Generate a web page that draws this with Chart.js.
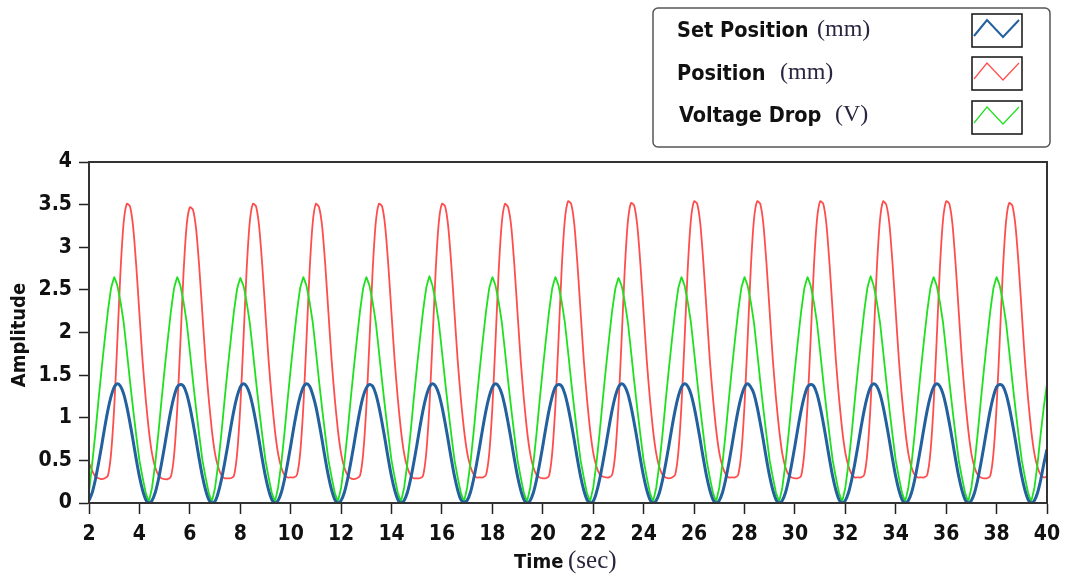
<!DOCTYPE html>
<html>
<head>
<meta charset="utf-8">
<script src="https://cdn.jsdelivr.net/npm/chart.js@4.4.1/dist/chart.umd.min.js"></script>
<style>
  html, body { margin: 0; padding: 0; background: #fff; }
  #wrap { width: 1066px; height: 577px; }
</style>
</head>
<body>
<div id="wrap"><canvas id="ampChart" width="1066" height="577"></canvas></div>
<script>
// waveform timing: first sample at t0, one sample every dt seconds
const t0 = 2;
const dt = 0.125;

const seriesNames = ["Set Position", "Position", "Voltage Drop"];
const seriesUnits = ["(mm)", "(mm)", "(V)"];
const seriesColors = ["#22609e", "#ff4d4d", "#1ee01e"];

// Set Position (mm)
const setPosition = [
  0.03,0.12,0.27,0.46,0.67,0.89,1.09,1.25,1.36,1.40,1.37,1.28,1.13,0.94,0.73,0.51,0.31,0.15,0.04,0.00,
  0.03,0.12,0.27,0.46,0.67,0.89,1.09,1.25,1.36,1.39,1.37,1.28,1.13,0.94,0.73,0.51,0.31,0.15,0.04,0.00,
  0.02,0.12,0.27,0.46,0.67,0.89,1.09,1.25,1.36,1.40,1.37,1.28,1.13,0.94,0.73,0.51,0.31,0.15,0.04,0.00,
  0.03,0.12,0.27,0.46,0.67,0.89,1.09,1.25,1.36,1.40,1.37,1.27,1.13,0.94,0.73,0.51,0.31,0.15,0.04,0.00,
  0.03,0.12,0.27,0.46,0.67,0.89,1.09,1.25,1.35,1.39,1.37,1.28,1.13,0.94,0.73,0.51,0.31,0.15,0.04,0.00,
  0.03,0.12,0.27,0.46,0.67,0.89,1.09,1.25,1.36,1.40,1.37,1.28,1.13,0.94,0.73,0.51,0.31,0.15,0.04,0.01,
  0.03,0.12,0.27,0.46,0.67,0.89,1.09,1.25,1.36,1.40,1.37,1.28,1.13,0.94,0.73,0.51,0.31,0.15,0.04,0.00,
  0.03,0.12,0.27,0.46,0.67,0.89,1.09,1.25,1.36,1.39,1.37,1.28,1.13,0.94,0.73,0.51,0.31,0.15,0.04,0.00,
  0.02,0.12,0.27,0.46,0.67,0.89,1.09,1.25,1.36,1.40,1.37,1.28,1.13,0.94,0.73,0.51,0.31,0.15,0.04,0.00,
  0.03,0.12,0.27,0.46,0.67,0.89,1.09,1.25,1.36,1.40,1.37,1.28,1.13,0.94,0.73,0.51,0.31,0.15,0.04,0.00,
  0.03,0.12,0.27,0.46,0.67,0.89,1.09,1.25,1.36,1.40,1.36,1.28,1.13,0.94,0.73,0.51,0.31,0.15,0.04,0.00,
  0.03,0.12,0.27,0.46,0.67,0.89,1.09,1.25,1.36,1.39,1.37,1.28,1.13,0.94,0.73,0.51,0.31,0.15,0.04,0.00,
  0.03,0.12,0.27,0.46,0.67,0.89,1.09,1.25,1.36,1.40,1.37,1.28,1.13,0.94,0.73,0.51,0.31,0.15,0.04,0.00,
  0.03,0.12,0.27,0.46,0.67,0.89,1.09,1.25,1.36,1.40,1.37,1.28,1.13,0.94,0.73,0.51,0.31,0.15,0.04,0.00,
  0.03,0.12,0.27,0.46,0.67,0.89,1.09,1.25,1.36,1.39,1.37,1.28,1.13,0.94,0.73,0.51,0.31,0.15,0.04,0.00,
  0.03,0.12,0.27,0.46,0.63
];

// Position (mm)
const position = [
  0.47,0.38,0.31,0.29,0.28,0.29,0.32,0.58,1.12,1.90,2.72,3.29,3.51,3.48,3.24,2.78,2.22,1.67,1.22,0.85,
  0.58,0.42,0.33,0.29,0.28,0.28,0.31,0.56,1.10,1.88,2.70,3.26,3.47,3.44,3.21,2.76,2.21,1.66,1.22,0.85,
  0.58,0.42,0.33,0.29,0.29,0.29,0.32,0.58,1.12,1.90,2.72,3.29,3.51,3.48,3.24,2.78,2.22,1.67,1.22,0.85,
  0.58,0.42,0.33,0.30,0.30,0.30,0.33,0.58,1.12,1.90,2.72,3.29,3.51,3.47,3.24,2.78,2.22,1.67,1.22,0.85,
  0.58,0.42,0.33,0.29,0.28,0.29,0.32,0.58,1.12,1.90,2.72,3.29,3.51,3.48,3.24,2.78,2.22,1.67,1.22,0.85,
  0.58,0.42,0.33,0.29,0.29,0.29,0.32,0.58,1.12,1.90,2.72,3.29,3.51,3.48,3.24,2.78,2.22,1.67,1.22,0.86,
  0.59,0.43,0.34,0.30,0.30,0.30,0.33,0.58,1.12,1.90,2.72,3.29,3.51,3.47,3.24,2.78,2.22,1.67,1.22,0.85,
  0.58,0.42,0.33,0.30,0.29,0.29,0.32,0.59,1.14,1.92,2.75,3.32,3.54,3.51,3.27,2.80,2.24,1.68,1.23,0.86,
  0.59,0.43,0.34,0.31,0.30,0.30,0.33,0.58,1.13,1.91,2.73,3.30,3.52,3.49,3.25,2.79,2.23,1.67,1.22,0.85,
  0.58,0.42,0.33,0.30,0.29,0.30,0.33,0.59,1.14,1.92,2.75,3.32,3.54,3.51,3.27,2.80,2.24,1.68,1.23,0.86,
  0.59,0.43,0.34,0.30,0.30,0.30,0.33,0.59,1.14,1.92,2.75,3.32,3.54,3.51,3.27,2.80,2.24,1.68,1.23,0.86,
  0.58,0.42,0.33,0.30,0.29,0.29,0.32,0.59,1.14,1.92,2.75,3.32,3.54,3.51,3.27,2.80,2.24,1.68,1.23,0.86,
  0.59,0.43,0.34,0.30,0.30,0.30,0.33,0.59,1.14,1.92,2.75,3.32,3.54,3.50,3.27,2.80,2.24,1.68,1.23,0.86,
  0.58,0.42,0.33,0.30,0.30,0.30,0.33,0.59,1.14,1.92,2.75,3.32,3.54,3.51,3.27,2.80,2.24,1.68,1.23,0.86,
  0.58,0.42,0.33,0.30,0.29,0.29,0.32,0.58,1.13,1.91,2.73,3.30,3.52,3.49,3.25,2.79,2.23,1.67,1.22,0.85,
  0.58,0.42,0.33,0.30,0.31
];

// Voltage Drop (V)
const voltageDrop = [
  0.12,0.46,0.81,1.20,1.57,1.92,2.25,2.52,2.65,2.55,2.36,2.12,1.78,1.43,1.10,0.79,0.50,0.30,0.12,0.02,
  0.18,0.46,0.81,1.20,1.57,1.92,2.25,2.52,2.65,2.55,2.36,2.12,1.78,1.43,1.10,0.79,0.50,0.30,0.12,0.02,
  0.18,0.46,0.81,1.20,1.57,1.92,2.25,2.51,2.64,2.55,2.36,2.12,1.78,1.43,1.10,0.79,0.50,0.30,0.12,0.02,
  0.18,0.46,0.81,1.20,1.57,1.92,2.25,2.52,2.65,2.55,2.36,2.12,1.78,1.43,1.10,0.79,0.50,0.30,0.12,0.02,
  0.18,0.46,0.81,1.20,1.57,1.92,2.25,2.52,2.65,2.55,2.36,2.12,1.78,1.43,1.10,0.79,0.50,0.30,0.12,0.02,
  0.18,0.46,0.81,1.20,1.57,1.92,2.25,2.52,2.66,2.55,2.36,2.12,1.78,1.43,1.10,0.79,0.50,0.30,0.12,0.02,
  0.18,0.46,0.81,1.20,1.57,1.92,2.25,2.52,2.65,2.55,2.36,2.12,1.78,1.43,1.10,0.79,0.50,0.30,0.12,0.02,
  0.18,0.46,0.81,1.20,1.57,1.92,2.25,2.52,2.65,2.55,2.36,2.12,1.78,1.43,1.10,0.79,0.50,0.30,0.12,0.02,
  0.18,0.46,0.81,1.20,1.57,1.92,2.25,2.51,2.64,2.55,2.36,2.12,1.78,1.43,1.10,0.79,0.50,0.30,0.12,0.02,
  0.18,0.46,0.81,1.20,1.57,1.92,2.25,2.52,2.65,2.55,2.36,2.12,1.78,1.43,1.10,0.79,0.50,0.30,0.12,0.02,
  0.18,0.46,0.81,1.20,1.57,1.92,2.25,2.52,2.65,2.55,2.36,2.12,1.78,1.43,1.10,0.79,0.50,0.30,0.12,0.02,
  0.18,0.46,0.81,1.20,1.57,1.92,2.25,2.52,2.65,2.55,2.36,2.12,1.78,1.43,1.10,0.79,0.50,0.30,0.12,0.02,
  0.18,0.46,0.81,1.20,1.57,1.92,2.25,2.52,2.66,2.55,2.36,2.12,1.78,1.43,1.10,0.79,0.50,0.30,0.12,0.02,
  0.18,0.46,0.81,1.20,1.57,1.92,2.25,2.52,2.65,2.55,2.36,2.12,1.78,1.43,1.10,0.79,0.50,0.30,0.12,0.02,
  0.18,0.46,0.81,1.20,1.57,1.92,2.25,2.52,2.65,2.55,2.36,2.12,1.78,1.43,1.10,0.79,0.50,0.30,0.12,0.02,
  0.18,0.46,0.81,1.13,1.40
];

const seriesValues = [setPosition, position, voltageDrop];

function toPoints(values) {
  return values.map((v, i) => ({ x: t0 + i * dt, y: v }));
}

const boldFace = "'DejaVu Sans Condensed', 'DejaVu Sans'";
const tickFont = { family: boldFace, size: 21, weight: "bold" };

// frame, axis titles and the boxed legend in the top right corner
const decorPlugin = {
  id: "decor",
  afterDraw(chart) {
    const ctx = chart.ctx;
    const a = chart.chartArea;
    ctx.save();

    ctx.strokeStyle = "#333";
    ctx.lineWidth = 2;
    ctx.strokeRect(a.left, a.top, a.right - a.left, a.bottom - a.top);

    // y title
    ctx.fillStyle = "#111";
    ctx.font = "bold 20px " + boldFace;
    ctx.textAlign = "center";
    ctx.textBaseline = "middle";
    ctx.translate(20, 335);
    ctx.rotate(-Math.PI / 2);
    ctx.fillText("Amplitude", 0, 0);
    ctx.setTransform(1, 0, 0, 1, 0, 0);

    // x title, bold word plus serif unit
    ctx.textAlign = "left";
    ctx.textBaseline = "alphabetic";
    ctx.font = "bold 20px " + boldFace;
    ctx.fillStyle = "#111";
    ctx.fillText("Time", 514, 568);
    ctx.font = "25px 'Liberation Serif'";
    ctx.fillStyle = "#2b2540";
    ctx.fillText("(sec)", 568, 568);

    // legend box
    const bx = 653, by = 8, bw = 397, bh = 139, r = 5;
    ctx.beginPath();
    ctx.moveTo(bx + r, by);
    ctx.arcTo(bx + bw, by, bx + bw, by + bh, r);
    ctx.arcTo(bx + bw, by + bh, bx, by + bh, r);
    ctx.arcTo(bx, by + bh, bx, by, r);
    ctx.arcTo(bx, by, bx + bw, by, r);
    ctx.closePath();
    ctx.fillStyle = "#fff";
    ctx.fill();
    ctx.strokeStyle = "#555";
    ctx.lineWidth = 1.5;
    ctx.stroke();

    const rows = [
      { nameX: 677, unitX: 817, base: 37, boxY: 14 },
      { nameX: 677, unitX: 780, base: 80, boxY: 57 },
      { nameX: 679, unitX: 835, base: 122, boxY: 101 }
    ];
    const widths = [2, 1.2, 1.2];
    rows.forEach((row, i) => {
      ctx.font = "bold 21.5px " + boldFace;
      ctx.fillStyle = "#111";
      ctx.fillText(seriesNames[i], row.nameX, row.base);
      ctx.font = "24px 'Liberation Serif'";
      ctx.fillStyle = "#2b2540";
      ctx.fillText(seriesUnits[i], row.unitX, row.base - 1);

      ctx.strokeStyle = "#111";
      ctx.lineWidth = 1.5;
      ctx.strokeRect(972, row.boxY, 50, 33);
      ctx.beginPath();
      ctx.moveTo(974, row.boxY + 22);
      ctx.lineTo(987, row.boxY + 6);
      ctx.lineTo(1003, row.boxY + 23);
      ctx.lineTo(1019, row.boxY + 6);
      ctx.strokeStyle = seriesColors[i];
      ctx.lineWidth = widths[i];
      ctx.stroke();
    });

    ctx.restore();
  }
};

const ctx = document.getElementById("ampChart").getContext("2d");

new Chart(ctx, {
  type: "line",
  data: {
    datasets: [
      {
        label: seriesNames[0] + " " + seriesUnits[0],
        data: toPoints(seriesValues[0]),
        borderColor: seriesColors[0],
        borderWidth: 3,
        tension: 0.3,
        order: 0
      },
      {
        label: seriesNames[1] + " " + seriesUnits[1],
        data: toPoints(seriesValues[1]),
        borderColor: seriesColors[1],
        borderWidth: 1.8,
        tension: 0.2,
        order: 2
      },
      {
        label: seriesNames[2] + " " + seriesUnits[2],
        data: toPoints(seriesValues[2]),
        borderColor: seriesColors[2],
        borderWidth: 1.8,
        tension: 0.05,
        order: 1
      }
    ]
  },
  options: {
    responsive: false,
    animation: false,
    devicePixelRatio: 1,
    elements: {
      point: { radius: 0 },
      line: { fill: false }
    },
    layout: { padding: { top: 162, right: 19, bottom: 0, left: 0 } },
    plugins: {
      legend: { display: false },
      tooltip: { enabled: false }
    },
    scales: {
      x: {
        type: "linear",
        min: 2,
        max: 40,
        // fixed axis height; edge labels must not push the plot inward
        afterFit: (s) => { s.height = 74; s.paddingLeft = 0; s.paddingRight = 0; },
        ticks: { stepSize: 2, color: "#111", font: tickFont, padding: 8, maxRotation: 0 },
        grid: { drawOnChartArea: false, tickLength: 11, tickColor: "#222", tickWidth: 1.5 },
        border: { color: "#333", width: 2 }
      },
      y: {
        min: 0,
        max: 4,
        afterFit: (s) => { s.width = 89; },
        ticks: { stepSize: 0.5, color: "#111", font: tickFont, padding: 7, callback: (v) => String(v) },
        grid: { drawOnChartArea: false, tickLength: 10, tickColor: "#222", tickWidth: 1.5 },
        border: { color: "#333", width: 2 }
      }
    }
  },
  plugins: [decorPlugin]
});
</script>
</body>
</html>
